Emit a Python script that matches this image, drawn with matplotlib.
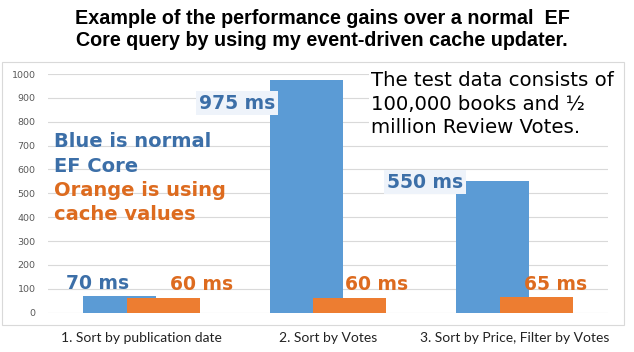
import matplotlib
matplotlib.use("Agg")
import matplotlib.pyplot as plt
from matplotlib.patches import Rectangle

categories = ["1. Sort by publication date", "2. Sort by Votes", "3. Sort by Price, Filter by Votes"]
normal_ms = [70, 975, 550]
cached_ms = [60, 60, 65]
yticks = [0, 100, 200, 300, 400, 500, 600, 700, 800, 900, 1000]

W, H = 634, 352
fig = plt.figure(figsize=(W / 100, H / 100), dpi=100)

def fx(px):
    return px / W

def fy(py):
    return 1 - py / H

# chart border
fig.patches.append(Rectangle((fx(2), fy(325)), fx(624) - fx(2), fy(62) - fy(325),
                             transform=fig.transFigure, fill=False,
                             edgecolor="#D9D9D9", lw=0.8))

ax_l, ax_r, ax_t, ax_b = 48, 608, 74, 312.7
ax = fig.add_axes([fx(ax_l), fy(ax_b), fx(ax_r) - fx(ax_l), fy(ax_t) - fy(ax_b)])

blue = "#5B9BD5"
orange = "#ED7D31"
blue_txt = "#3C6FA8"
orange_txt = "#DD6B1F"

x = list(range(len(categories)))
bw = 0.39
off = 0.117
ax.bar([i - off for i in x], normal_ms, width=bw, color=blue, zorder=2)
ax.bar([i + off for i in x], cached_ms, width=bw, color=orange, zorder=3)

ax.set_xlim(-0.5, len(categories) - 0.5)
ax.set_ylim(0, 1000)
ax.set_yticks(yticks)
ax.set_yticklabels([str(v) for v in yticks], fontsize=6.8, color="#595959")
ax.set_xticks(x)
ax.set_xticklabels(categories, fontsize=10, color="#222222", family="Lato")
ax.tick_params(axis="both", length=0)
ax.tick_params(axis="y", pad=9)
ax.tick_params(axis="x", pad=14)
ax.grid(axis="y", color="#D9D9D9", lw=0.8, zorder=0)
ax.set_axisbelow(True)
for s in ax.spines.values():
    s.set_visible(False)

lab = dict(fontsize=13.5, fontweight="bold", family="DejaVu Sans", ha="center", va="center", zorder=5)
# value labels (data coordinates)
ax.text(-0.237, 124, f"{normal_ms[0]} ms", color=blue_txt, **lab)
ax.text(0.325, 120, f"{cached_ms[0]} ms", color=orange_txt, **lab)
ax.text(0.5125, 878, f"{normal_ms[1]} ms", color=blue_txt,
        bbox=dict(boxstyle="square,pad=0.15", fc="#EEF3FA", ec="none"), **lab)
ax.text(1.262, 120, f"{cached_ms[1]} ms", color=orange_txt, **lab)
ax.text(1.52, 547, f"{normal_ms[2]} ms", color=blue_txt,
        bbox=dict(boxstyle="square,pad=0.15", fc="#EEF3FA", ec="none"), **lab)
ax.text(2.22, 120, f"{cached_ms[2]} ms", color=orange_txt, **lab)

# title
fig.text(0.508, fy(30), "Example of the performance gains over a normal  EF\nCore query by using my event-driven cache updater.",
         ha="center", va="center", fontsize=14.2, fontweight="bold", family="Liberation Sans",
         linespacing=1.2, color="#000000")

# legend-like text
leg = dict(fontsize=14, fontweight="bold", family="DejaVu Sans", ha="left", va="center")
fig.text(fx(54), fy(141), "Blue is normal", color=blue_txt, **leg)
fig.text(fx(54), fy(166), "EF Core", color=blue_txt, **leg)
fig.text(fx(54), fy(191), "Orange is using", color=orange_txt, **leg)
fig.text(fx(54), fy(215), "cache values", color=orange_txt, **leg)

# info box
fig.text(fx(371), fy(104), "The test data consists of\n100,000 books and ½\nmillion Review Votes.",
         ha="left", va="center", fontsize=14.2, family="DejaVu Sans", color="#000000",
         linespacing=1.27,
         bbox=dict(boxstyle="square,pad=0.1", fc="white", ec="none"))

fig.savefig("out.png", dpi=100)
